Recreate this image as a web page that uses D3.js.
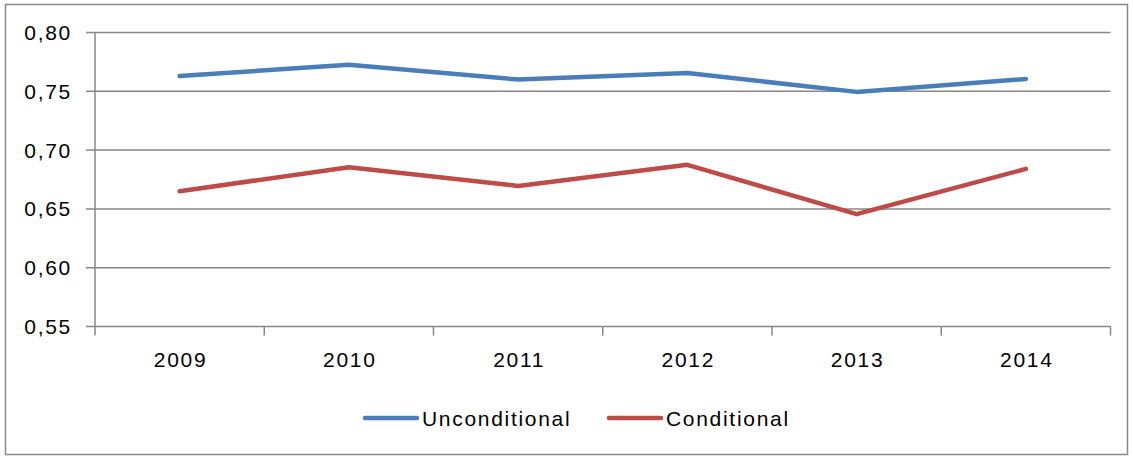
<!DOCTYPE html>
<html><head><meta charset="utf-8">
<script src="https://cdn.jsdelivr.net/npm/d3@7"></script>
<style>
html,body{margin:0;padding:0;background:#fff;}
text{font-family:"Liberation Sans",Arial,sans-serif;fill:#000;}
</style></head>
<body>
<svg id="c" width="1133" height="458"></svg>
<script>
const years = ["2009","2010","2011","2012","2013","2014"];
const unconditional = [0.763, 0.7725, 0.760, 0.7655, 0.7495, 0.7605];
const conditional = [0.665, 0.6855, 0.6695, 0.6875, 0.6455, 0.684];
const yTicks = [0.55, 0.60, 0.65, 0.70, 0.75, 0.80];
const seriesNames = ["Unconditional", "Conditional"];
const colors = ["#4a7ebb", "#be4b48"];

const svg = d3.select("#c");
svg.append("rect").attr("x",5.5).attr("y",4.5).attr("width",1122).attr("height",450)
  .attr("fill","#fff").attr("stroke","#898989").attr("stroke-width",1.5);

const L=95, R=1110.5, T=32.5, B=326.5;
const x = d3.scaleBand().domain(years).range([L,R]);
const y = d3.scaleLinear().domain([0.55,0.80]).range([B,T]);
const fmt = d => d3.format(".2f")(d).replace(".", ",");
const FS = 21, LS = 1.7;

// gridlines
svg.append("g").selectAll("line").data(yTicks).join("line")
  .attr("x1",L-9).attr("x2",R).attr("y1",d=>y(d)).attr("y2",d=>y(d))
  .attr("stroke","#878787").attr("stroke-width",1.5);

// y axis line
svg.append("line").attr("x1",L).attr("x2",L).attr("y1",T).attr("y2",B+9)
  .attr("stroke","#878787").attr("stroke-width",1.5);
// x ticks at boundaries
const bounds = years.map(d=>x(d)).concat([R]);
svg.append("g").selectAll("line").data(bounds.slice(1)).join("line")
  .attr("x1",d=>d).attr("x2",d=>d).attr("y1",B).attr("y2",B+9)
  .attr("stroke","#878787").attr("stroke-width",1.5);

// y labels
svg.append("g").selectAll("text").data(yTicks).join("text")
  .attr("x",72).attr("y",d=>y(d)).attr("dy","0.36em").attr("text-anchor","end")
  .attr("font-size",FS).attr("letter-spacing",LS).text(fmt);
// x labels
svg.append("g").selectAll("text").data(years).join("text")
  .attr("x",d=>x(d)+x.bandwidth()/2+1).attr("y",367).attr("text-anchor","middle")
  .attr("font-size",FS).attr("letter-spacing",LS).text(d=>d);

const line = d3.line().x((d,i)=>x(years[i])+x.bandwidth()/2).y(d=>y(d));
[unconditional, conditional].forEach((s,k)=>{
  svg.append("path").datum(s).attr("d",line).attr("fill","none")
    .attr("stroke",colors[k]).attr("stroke-width",4.5)
    .attr("stroke-linejoin","round").attr("stroke-linecap","round");
});

// legend
const leg = [{x:365,name:seriesNames[0],c:colors[0]},{x:609,name:seriesNames[1],c:colors[1]}];
leg.forEach(l=>{
  svg.append("line").attr("x1",l.x).attr("x2",l.x+52).attr("y1",418).attr("y2",418)
    .attr("stroke",l.c).attr("stroke-width",4.5).attr("stroke-linecap","round");
  svg.append("text").attr("x",l.x+57).attr("y",418).attr("dy","0.36em")
    .attr("font-size",FS).attr("letter-spacing",LS).text(l.name);
});
</script>
</body></html>
